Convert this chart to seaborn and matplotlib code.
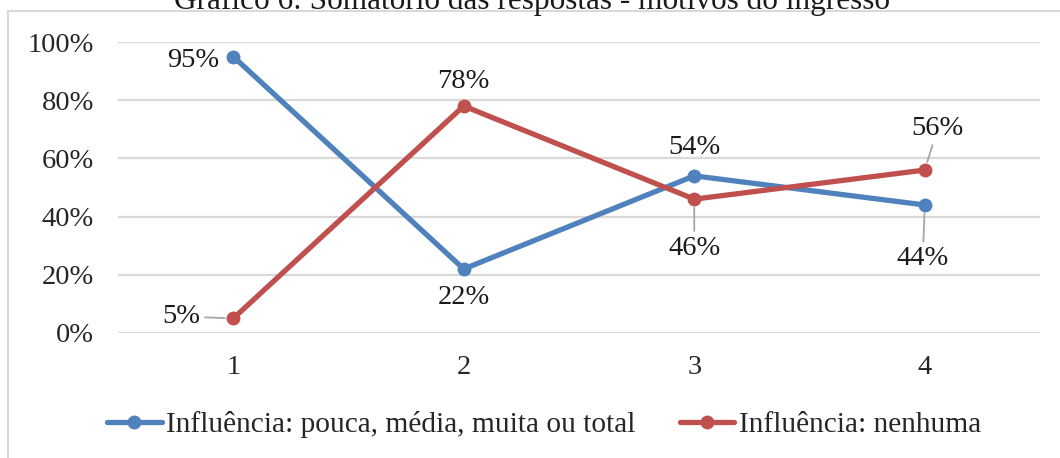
import matplotlib
matplotlib.use("Agg")
import matplotlib.pyplot as plt
from matplotlib.lines import Line2D
from matplotlib.patches import Rectangle
import numpy as np
import pandas as pd
import seaborn as sns

# Data
categorias = [1, 2, 3, 4]
serie_influencia = [95, 22, 54, 44]   # Influência: pouca, média, muita ou total
serie_nenhuma = [5, 78, 46, 56]       # Influência: nenhuma
nomes_series = ["Influência: pouca, média, muita ou total", "Influência: nenhuma"]
cores = ["#4F81BD", "#C0504D"]
y_ticks = [0, 20, 40, 60, 80, 100]
titulo = "Gráfico 6: Somatório das respostas - motivos do ingresso"

df = pd.DataFrame({
    "categoria": categorias * 2,
    "valor": serie_influencia + serie_nenhuma,
    "serie": [nomes_series[0]] * len(categorias) + [nomes_series[1]] * len(categorias),
})

sns.set_theme(style="white")
plt.rcParams["font.family"] = ["Liberation Serif", "DejaVu Serif"]
FS = 20.5

fig = plt.figure(figsize=(10.6, 4.58), dpi=100)
ax = fig.add_axes([118 / 1060, 1 - 333 / 458, (1040 - 118) / 1060, (333 - 42) / 458])

# outer chart frame
fig.patches.append(Rectangle((8 / 1060, -0.2), 1.2, 1.2 - 11 / 458,
                             transform=fig.transFigure, fill=False,
                             edgecolor="#d9d9d9", linewidth=1.5, zorder=0))

sns.lineplot(data=df, x="categoria", y="valor", hue="serie", hue_order=nomes_series,
             palette=cores, marker="o", markersize=10, markeredgewidth=0,
             linewidth=3.8, ax=ax, legend=False, zorder=3)

ax.set_xlim(0.5, 4.5)
ax.set_ylim(0, 100)
ax.set_yticks(y_ticks)
ax.set_yticklabels([f"{v}%" for v in y_ticks], fontsize=FS)
ax.set_xticks(categorias)
ax.set_xticklabels([str(c) for c in categorias], fontsize=FS)
ax.tick_params(axis="y", length=0, pad=24 * 0.72)
ax.tick_params(axis="x", length=0, pad=22 * 0.72)
ax.set_xlabel("")
ax.set_ylabel("")
ax.yaxis.grid(True, color="#d9d9d9", linewidth=1.6)
ax.set_axisbelow(True)
for s in ax.spines.values():
    s.set_visible(False)

# value labels: (offset in pixels, leader line?)
rot_influencia = [((-40, -4), False), ((0, -29), False), ((0, 28), False), ((-2, -54), True)]
rot_nenhuma = [((-52, 2), True), ((0, 25), False), ((0, -49), True), ((13, 42), True)]

for valores, rots in ((serie_influencia, rot_influencia), (serie_nenhuma, rot_nenhuma)):
    for x, v, (off, lider) in zip(categorias, valores, rots):
        kw = {}
        if lider:
            kw["arrowprops"] = dict(arrowstyle="-", color="#a6a6a6", linewidth=1.3,
                                    shrinkA=1, shrinkB=6)
        ax.annotate(f"{v}%", xy=(x, v), xytext=off, textcoords="offset pixels",
                    ha="center", va="center", fontsize=FS, color="#1a1a1a",
                    annotation_clip=False, zorder=5, **kw)

# title, running off the top edge of the canvas
fig.text(532 / 1060, 1 - 9 / 458, titulo, ha="center", va="baseline",
         fontsize=22.5, color="#1a1a1a")

handles = [Line2D([0], [0], color=c, linewidth=3.8, marker="o", markersize=10,
                  markeredgewidth=0) for c in cores]
fig.legend(handles, nomes_series, loc="center", bbox_to_anchor=(544 / 1060, 1 - 425 / 458),
           ncol=2, frameon=False, fontsize=21.2, handlelength=1.85, handletextpad=0.15,
           columnspacing=1.5, borderaxespad=0)

fig.savefig("out.png", dpi=100)
